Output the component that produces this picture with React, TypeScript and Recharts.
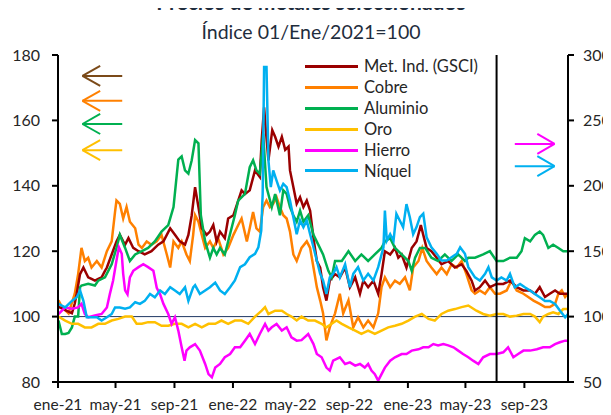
import React from 'react';
import { LineChart, Line, XAxis, YAxis, ReferenceLine } from 'recharts';

const tickDays = [0, 120, 243, 365, 485, 608, 730, 850, 973];
const tickLabels = ['ene-21', 'may-21', 'sep-21', 'ene-22', 'may-22', 'sep-22', 'ene-23', 'may-23', 'sep-23'];
const leftTicks = [80, 100, 120, 140, 160, 180];
const rightTicks = [50, 100, 150, 200, 250, 300];
const markerDay = 915;

const metInd: [number, number][] = [[1,103],[8,102.5],[15,102],[22,101.5],[29,101],[35,104],[39,107],[46,113],[53,115],[63,112],[70,111.5],[77,111],[84,111.5],[91,112],[98,114],[102,115],[112,119],[122,123],[129,125],[136,123],[140,122],[147,124],[157,121],[168,120],[181,119],[195,120],[209,122],[220,123],[234,127],[244,125],[254,123],[265,122],[272,125],[279,131],[286,139.6],[293,133.5],[300,127],[310,125],[317,126],[324,128],[331,123],[338,126],[348,124],[355,130],[366,131],[376,135.5],[383,138.6],[390,137.5],[400,138.6],[411,144.7],[421,142.7],[425,154],[430,164],[433,158],[439,147.8],[447,157],[453,155],[460,152],[467,155],[474,151],[481,152],[484,144.7],[491,139.6],[498,134.5],[505,136.5],[512,133.5],[519,135.5],[526,132.4],[533,124],[540,117],[547,115],[553,109],[560,104.9],[567,111],[578,113],[588,112],[599,115],[609,109],[620,112],[630,107],[637,111],[647,109],[658,111],[668,107],[675,113],[682,120],[693,119],[703,121],[710,118],[717,119],[727,115],[738,121],[748,123],[757,128],[762,125],[769,121],[779,120],[790,118],[800,116],[814,117],[828,115],[842,116],[852,114],[863,111],[870,108],[880,109],[891,111],[901,109],[915,110],[929,110],[943,111],[957,109],[971,108],[985,108],[995,107],[1005,109],[1016,106],[1026,107],[1037,108],[1047,107],[1058,107],[1064,107]];

const cobre: [number, number][] = [[1,105],[8,103],[22,101],[35,107],[42,113],[49,121],[56,117],[63,118],[70,115],[81,117],[91,115],[102,120],[112,123],[119,132],[122,135.5],[129,134.5],[136,130],[143,133.5],[150,129],[161,127],[168,122],[175,121],[185,123],[195,122],[206,123],[216,125],[227,119],[234,115],[241,123],[251,121],[258,123],[268,119],[275,117],[282,125],[286,131],[293,129],[300,125],[307,121],[317,123],[324,121],[334,124],[345,119],[355,121],[366,125],[376,128],[383,130],[394,123],[400,127],[407,132],[414,127],[421,126],[428,133.5],[435,135.5],[442,133.5],[449,134.5],[456,136.5],[463,133.5],[470,131],[477,130],[484,126],[491,119],[498,117],[508,121],[519,123],[526,121],[533,115],[540,109],[547,104.9],[553,101],[560,92.7],[567,96.7],[578,101],[588,107],[595,101],[606,105],[616,96.7],[626,99.8],[637,96.7],[647,98.8],[658,96.7],[668,101],[675,109],[682,112],[693,109],[703,111],[713,110],[724,112],[734,108],[741,115],[752,117],[760,121],[769,117],[779,115],[790,113],[800,115],[811,113],[821,116],[832,115],[842,117],[852,113],[863,108],[870,107],[880,108],[891,107],[901,109],[912,107],[922,107],[936,108],[946,111],[957,108],[971,107],[981,106],[992,104.9],[1005,103.9],[1016,102.9],[1026,102.9],[1037,103.9],[1044,107],[1051,108],[1058,106],[1064,107]];

const aluminio: [number, number][] = [[1,98.8],[8,94.7],[15,94.7],[22,95],[29,96.7],[35,100],[42,100],[46,109],[49,109.5],[63,110],[77,109.5],[84,111],[98,112],[112,116],[122,121],[129,125],[140,121],[150,117],[161,119],[175,120],[188,121],[202,123],[216,126],[230,128],[241,133.5],[251,148],[258,149],[265,144.7],[272,143.7],[279,147.8],[286,154],[293,153],[298,131],[307,123],[317,118],[324,121],[331,119],[338,121],[348,119],[355,123],[369,131],[376,135.5],[390,137.5],[400,145.7],[407,147.8],[414,144.7],[421,143.7],[425,150],[428,156],[435,139.6],[446,133.5],[453,137.5],[463,131],[470,138.6],[477,137.5],[484,133.5],[491,131],[498,129],[505,132.4],[512,129],[522,131],[533,125],[543,122],[553,119],[564,114],[571,112],[578,117],[588,117],[592,117],[606,120],[620,117],[633,119],[647,117],[661,119],[675,121],[682,123],[693,124],[703,121],[717,119],[731,117],[738,114],[745,118],[755,121],[766,121],[779,118],[793,117],[807,119],[821,117],[835,119],[849,117],[856,118],[870,118],[887,119],[901,120],[915,117],[929,117],[943,118],[957,118],[967,120],[974,124],[985,123],[995,125],[1005,126],[1012,125],[1023,121],[1033,122],[1044,121],[1054,120],[1064,120]];

const oro: [number, number][] = [[1,100],[15,98.8],[29,97.8],[42,97.8],[56,96.7],[70,96.7],[84,97.8],[98,97.8],[112,98.8],[126,99.3],[140,100],[154,100],[164,97.8],[175,97.8],[188,98.3],[202,98.3],[216,97.2],[230,97.2],[244,97.8],[258,97.8],[272,96.7],[286,97.8],[300,96.7],[314,97.8],[328,97.8],[341,98.8],[355,97.8],[369,98.8],[383,98.8],[397,97.8],[411,100],[425,101.8],[432,102.9],[439,100.8],[453,101.8],[467,101.8],[477,100.8],[487,100],[498,98.8],[508,100],[522,98.8],[536,98.8],[550,97.8],[560,96.7],[571,97.8],[581,98.8],[592,97.8],[606,96.7],[620,95.7],[633,94.7],[647,95.7],[661,94.7],[675,95.7],[689,96.7],[703,97.2],[717,97.8],[731,98.8],[745,100],[759,100.8],[773,99.3],[786,98.8],[800,100.8],[814,101.8],[828,102.3],[842,102.9],[856,103.4],[873,101.8],[887,100.8],[901,100.3],[915,100.8],[929,100.8],[943,100],[957,100.3],[971,100.8],[985,100.8],[995,100],[1005,98.3],[1012,100],[1023,100.8],[1033,101.3],[1044,100.8],[1054,102.3],[1064,102.3]];

const hierro: [number, number][] = [[1,102],[15,107],[29,106],[42,107],[49,109.7],[56,102],[63,99.5],[77,100.8],[91,102],[102,107],[108,117],[115,127.6],[122,142.9],[127,153],[133,148],[136,132.7],[140,120],[145,117],[150,130],[157,135],[168,137.8],[178,140],[188,137.8],[199,135],[206,122],[213,117],[220,109.7],[230,102],[237,94.4],[244,99.5],[251,89.3],[258,76.5],[264,66.3],[268,74],[275,76.5],[286,79],[296,74],[307,63.8],[314,56],[321,53.6],[328,61],[338,63.8],[348,68.9],[359,71.4],[369,76.5],[380,76.5],[390,81.6],[400,86.7],[411,79],[421,86.7],[432,94.4],[439,89.3],[446,91.8],[456,94.4],[467,89.3],[477,91.8],[487,84.2],[498,81.6],[508,82],[522,86.7],[533,79],[540,71.4],[550,68.9],[560,61],[567,58.7],[574,66.3],[588,68.9],[599,63.8],[609,65],[620,62.5],[630,63.8],[640,61],[647,63.8],[654,58.7],[661,56],[668,51],[675,56],[682,61],[693,66.3],[703,68.9],[717,71.4],[727,71.4],[738,74],[752,75],[762,76.5],[773,76.5],[783,79],[793,78],[804,79],[814,78],[825,76.5],[835,74],[845,71.4],[856,68.9],[866,66.3],[877,63.8],[887,68.9],[901,71.4],[915,71.4],[929,72.7],[939,76.5],[950,68.9],[960,71.4],[971,74],[985,74],[999,75],[1012,76.5],[1026,76.5],[1037,79],[1047,80.4],[1058,81.6],[1064,81.6]];

const niquel: [number, number][] = [[1,109.7],[15,107],[29,112],[39,114.8],[46,119.9],[53,112],[60,99.5],[70,99.5],[81,99.5],[91,97],[102,99.5],[112,102],[119,107],[129,107],[140,106],[150,107],[161,111],[171,109.7],[181,112],[192,117.3],[202,114.8],[213,119.9],[223,117.3],[234,122.4],[244,119.9],[254,117.3],[265,122.4],[272,112],[282,122.4],[286,124],[296,117.3],[307,120],[317,122.4],[328,126],[338,120],[348,117.3],[359,122.4],[369,127.6],[380,137.8],[390,140],[400,145.4],[411,148],[418,153],[424,165.8],[427,193.9],[430,290.8],[435,290.8],[439,219.4],[444,199],[449,211.7],[456,204],[463,196.4],[470,201.5],[477,199],[484,188.8],[491,176],[498,163],[505,173.5],[512,168.4],[519,173.5],[526,163],[533,153],[540,142.9],[547,132.7],[553,127.6],[560,117.3],[567,130],[574,132.7],[581,137.8],[588,130],[599,140],[609,122.4],[616,132.7],[626,137.8],[637,127.6],[647,132.7],[658,127.6],[668,137.8],[679,153],[682,181],[686,158],[693,163],[700,158],[706,178.6],[713,173.5],[720,168.4],[727,186],[734,176],[741,163],[748,168.4],[755,176],[762,178.6],[769,160.7],[779,153],[790,148],[800,142.9],[811,142.9],[821,145.4],[832,148],[839,153],[849,148],[856,137.8],[870,130],[880,127.6],[891,132.7],[898,137.8],[905,130],[915,127.6],[925,130],[936,127.6],[943,132.7],[953,122.4],[964,125],[974,122.4],[985,119.9],[995,117.3],[1005,114.8],[1016,112],[1026,112],[1037,109.7],[1047,104.6],[1058,99.5],[1064,102]];

const series = [
  { name: 'Met. Ind. (GSCI)', color: '#9A0000', data: metInd, axis: 'left' },
  { name: 'Cobre', color: '#FF8000', data: cobre, axis: 'left' },
  { name: 'Aluminio', color: '#00B050', data: aluminio, axis: 'left' },
  { name: 'Oro', color: '#FFC000', data: oro, axis: 'left' },
  { name: 'Hierro', color: '#FF00FF', data: hierro, axis: 'right' },
  { name: 'Níquel', color: '#00B0F0', data: niquel, axis: 'right' },
];
const drawOrder = [1, 0, 2, 3, 4, 5];

// annotation arrows, in axis units (day, left-axis value)
const leftArrows = [
  { color: '#7B4A19', y: 173.6 },
  { color: '#FF8000', y: 166.0 },
  { color: '#00B050', y: 158.9 },
  { color: '#FFC000', y: 150.9 },
];
const rightArrows = [
  { color: '#FF00FF', y: 152.8 },
  { color: '#00B0F0', y: 146.0 },
];
const arrowHalf = 3.06;

const FONT = 'Lato, "Open Sans", sans-serif';
const TXT = '#262626';

function arrowSegments(tip: number, armEnd: number, tail: number, y: number) {
  return [
    [{ x: tip, y }, { x: tail, y }],
    [{ x: tip, y }, { x: armEnd, y: y + arrowHalf }],
    [{ x: tip, y }, { x: armEnd, y: y - arrowHalf }],
  ];
}

export default function App() {
  const refs: React.ReactNode[] = [];
  leftArrows.forEach((a, i) => {
    arrowSegments(51, 88, 134, a.y).forEach((seg, j) => {
      refs.push(
        <ReferenceLine key={`la${i}-${j}`} yAxisId="left" segment={seg as any} stroke={a.color} strokeWidth={2} ifOverflow="visible" />
      );
    });
  });
  rightArrows.forEach((a, i) => {
    arrowSegments(1036, 1000, 953, a.y).forEach((seg, j) => {
      refs.push(
        <ReferenceLine key={`ra${i}-${j}`} yAxisId="left" segment={seg as any} stroke={a.color} strokeWidth={2} ifOverflow="visible" />
      );
    });
  });

  return (
    <div style={{ position: 'relative', width: 603, height: 407, fontFamily: FONT }}>
      <div style={{ position: 'absolute', left: 0, width: 606, top: -13, height: 14, overflow: 'visible', textAlign: 'center', fontWeight: 700, fontSize: 21, color: '#1F2D3D', lineHeight: '14px', whiteSpace: 'nowrap', zIndex: 2 }}>
        Precios de metales seleccionados
      </div>
      <div style={{ position: 'absolute', left: 0, width: 606, top: 11, textAlign: 'center', fontSize: 19.5, color: '#1F2D3D', lineHeight: '26px', whiteSpace: 'nowrap' }}>
        Índice 01/Ene/2021=100
      </div>
      <LineChart width={603} height={407} margin={{ top: 47, right: 0, bottom: 0, left: 0 }}>
        <XAxis
          type="number"
          dataKey="d"
          domain={[0, 1064]}
          ticks={tickDays}
          tickFormatter={(v: number) => tickLabels[tickDays.indexOf(v)] ?? ''}
          height={33}
          tickSize={6}
          tickMargin={11}
          interval={0}
          axisLine={{ stroke: '#000', strokeWidth: 2 }}
          tickLine={{ stroke: '#000', strokeWidth: 2 }}
          tick={{ fill: TXT, fontSize: 15.5, fontFamily: FONT }}
          allowDataOverflow
        />
        <YAxis
          yAxisId="left"
          orientation="left"
          domain={[80, 180]}
          ticks={leftTicks}
          width={50}
          tickSize={6}
          tickMargin={12}
          interval={0}
          axisLine={{ stroke: '#000', strokeWidth: 2 }}
          tickLine={{ stroke: '#000', strokeWidth: 2 }}
          tick={{ fill: TXT, fontSize: 16, fontFamily: FONT }}
          allowDataOverflow
        />
        <YAxis
          yAxisId="right"
          orientation="right"
          domain={[50, 300]}
          ticks={rightTicks}
          width={43}
          tickSize={6}
          tickMargin={9}
          interval={0}
          axisLine={{ stroke: '#000', strokeWidth: 2 }}
          tickLine={{ stroke: '#000', strokeWidth: 2 }}
          tick={{ fill: TXT, fontSize: 16, fontFamily: FONT, textAnchor: 'start' }}
          allowDataOverflow
        />
        <ReferenceLine yAxisId="left" y={100} stroke="#1F3864" strokeWidth={1} />
        {drawOrder.map((i) => {
          const s = series[i];
          return (
            <Line
              key={s.name}
              yAxisId={s.axis}
              data={s.data.map(([d, v]) => ({ d, v }))}
              dataKey="v"
              name={s.name}
              stroke={s.color}
              strokeWidth={2.5}
              dot={false}
              activeDot={false}
              type="linear"
              isAnimationActive={false}
            />
          );
        })}
        <ReferenceLine yAxisId="left" x={markerDay} stroke="#000" strokeWidth={2} />
        {refs}
      </LineChart>
      <div style={{ position: 'absolute', left: 297, top: 48 }}>
        {series.map((s) => (
          <div key={s.name} style={{ display: 'flex', alignItems: 'center', height: 20.9 }}>
            <div style={{ width: 53, height: 3, background: s.color, marginRight: 6 }} />
            <span style={{ fontSize: 16.5, color: TXT, fontFamily: FONT, lineHeight: '20px', whiteSpace: 'nowrap' }}>{s.name}</span>
          </div>
        ))}
      </div>
    </div>
  );
}
